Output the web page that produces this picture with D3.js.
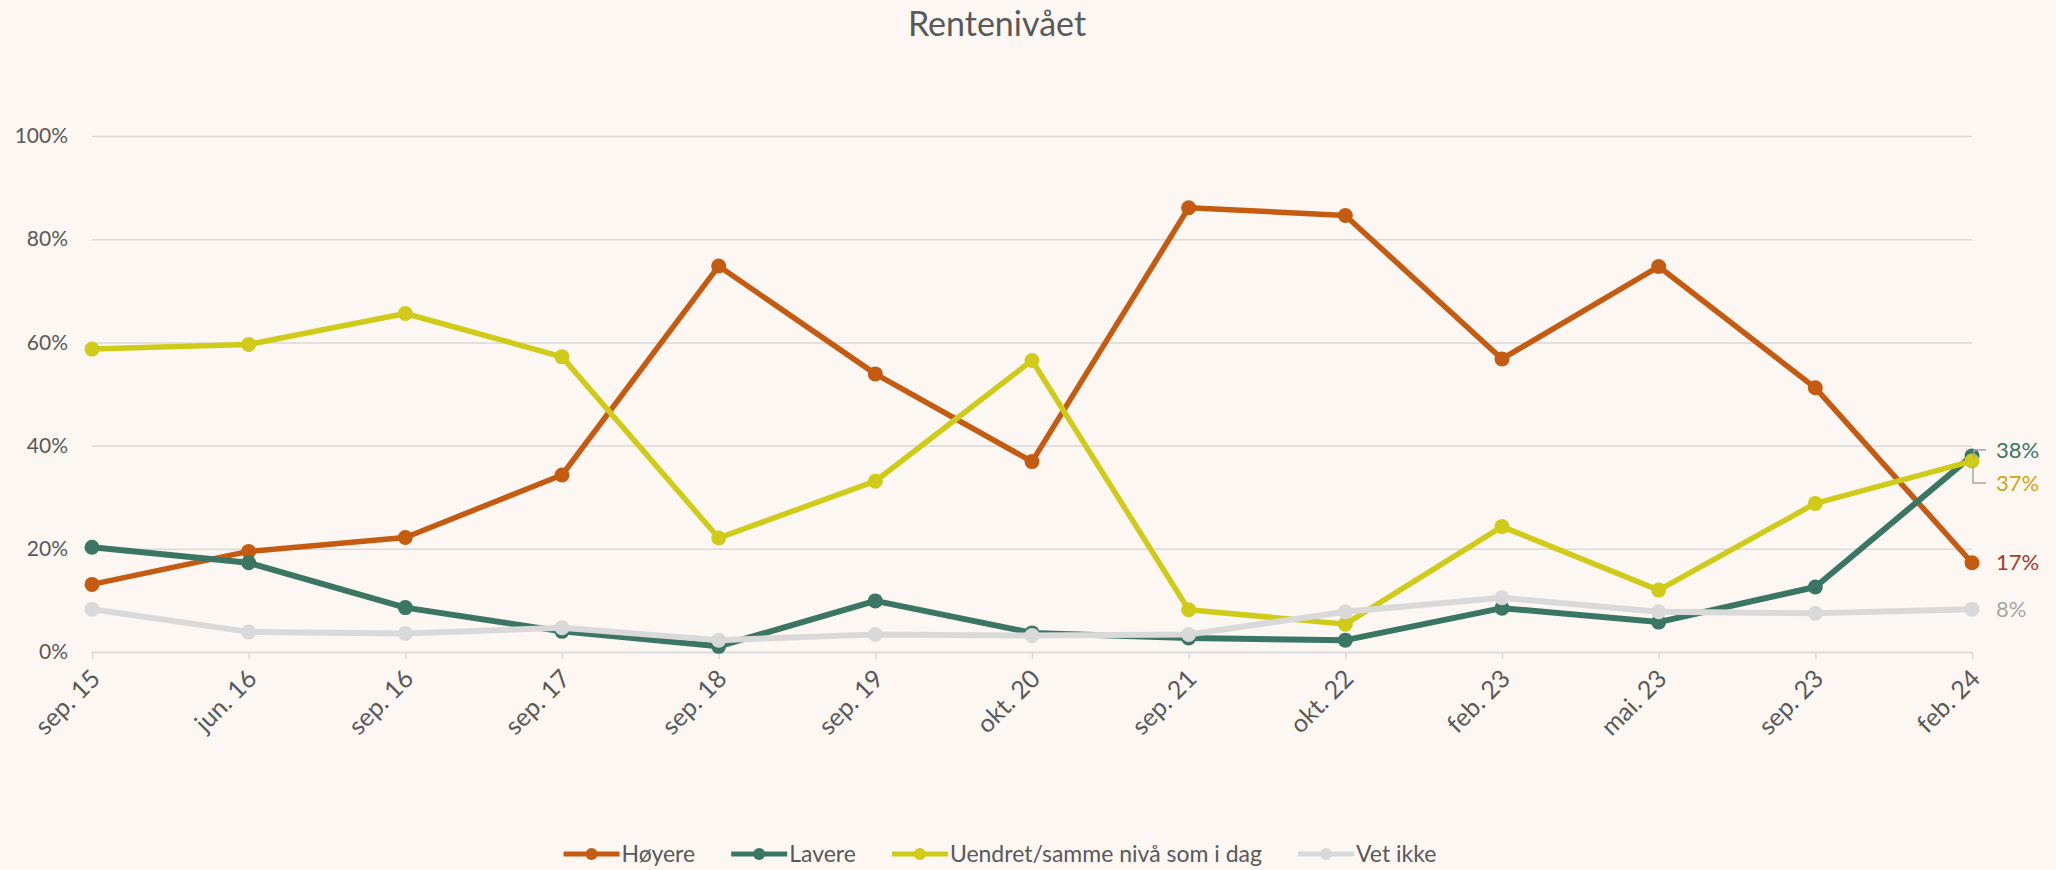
<!DOCTYPE html>
<html>
<head>
<meta charset="utf-8">
<script src="https://cdn.jsdelivr.net/npm/d3@7"></script>
<style>
  html, body { margin: 0; padding: 0; background: #fdf7f3; }
  svg { display: block; font-family: Lato, "Open Sans", sans-serif; }
</style>
</head>
<body>
<svg></svg>
<script>
// categories (survey dates)
var dates = ["sep. 15", "jun. 16", "sep. 16", "sep. 17", "sep. 18", "sep. 19", "okt. 20",
  "sep. 21", "okt. 22", "feb. 23", "mai. 23", "sep. 23", "feb. 24"];

// share of answers, percent
var hoyere  = [13.1, 19.5, 22.2, 34.3, 74.8, 53.9, 36.9, 86.1, 84.6, 56.8, 74.7, 51.2, 17.3];
var lavere  = [20.3, 17.3, 8.6, 4.0, 1.1, 9.9, 3.7, 2.7, 2.3, 8.5, 5.8, 12.6, 38.0];
var uendret = [58.7, 59.6, 65.6, 57.2, 22.1, 33.1, 56.5, 8.2, 5.4, 24.3, 12.0, 28.8, 37.0];
var vetIkke = [8.3, 3.9, 3.6, 4.7, 2.3, 3.4, 3.2, 3.4, 7.8, 10.5, 7.8, 7.5, 8.3];

var seriesNames = ["Høyere", "Lavere", "Uendret/samme nivå som i dag", "Vet ikke"];
var yTicks = [0, 20, 40, 60, 80, 100];

var colors = ["#c55a11", "#3b7665", "#d0cb18", "#d9d9d9"];
var labelColors = ["#a33a2e", "#3b7665", "#d1a415", "#a6a6a6"];
var lineWidths = [5.5, 6, 5.5, 6];

var width = 2056, height = 870;
var margin = { left: 92, right: 84, top: 136, bottom: 218 };
var plotW = width - margin.left - margin.right;
var plotH = height - margin.top - margin.bottom;

var svg = d3.select("svg")
  .attr("width", width)
  .attr("height", height);

svg.append("rect")
  .attr("width", width)
  .attr("height", height)
  .attr("fill", "#fdf7f3");

var series = [hoyere, lavere, uendret, vetIkke];

var x = d3.scalePoint()
  .domain(dates)
  .range([0, plotW]);

var y = d3.scaleLinear()
  .domain([0, 100])
  .range([plotH, 0]);

var g = svg.append("g")
  .attr("transform", "translate(" + margin.left + "," + margin.top + ")");

// title
svg.append("text")
  .attr("x", 997)
  .attr("y", 36)
  .attr("text-anchor", "middle")
  .attr("font-size", 34)
  .attr("fill", "#595959")
  .text("Rentenivået");

// y axis + gridlines
var yAxis = g.append("g")
  .call(d3.axisLeft(y)
    .tickValues(yTicks)
    .tickSize(-plotW)
    .tickPadding(24)
    .tickFormat(function(d) { return d + "%"; }));
yAxis.select(".domain").remove();
yAxis.selectAll("line")
  .attr("stroke", "#d9d9d9")
  .attr("stroke-width", 1.5);
yAxis.selectAll("text")
  .attr("font-size", 21)
  .attr("font-family", "Lato, sans-serif")
  .attr("fill", "#595959");

// x axis
var xAxis = g.append("g")
  .attr("transform", "translate(0," + plotH + ")")
  .call(d3.axisBottom(x).tickSize(7).tickSizeOuter(0));
xAxis.select(".domain")
  .attr("stroke", "#d9d9d9")
  .attr("stroke-width", 1.5);
xAxis.selectAll("line")
  .attr("stroke", "#d9d9d9")
  .attr("stroke-width", 1.5);
xAxis.selectAll("text")
  .attr("font-size", 25)
  .attr("font-family", "Lato, sans-serif")
  .attr("fill", "#595959")
  .attr("text-anchor", "end")
  .attr("x", 0)
  .attr("y", 0)
  .attr("dy", "0.35em")
  .attr("transform", "translate(3,22) rotate(-45)");

// lines and markers
var line = d3.line()
  .x(function(d, i) { return x(dates[i]); })
  .y(function(d) { return y(d); });

series.forEach(function(vals, s) {
  g.append("path")
    .datum(vals)
    .attr("fill", "none")
    .attr("stroke", colors[s])
    .attr("stroke-width", lineWidths[s])
    .attr("stroke-linejoin", "round")
    .attr("d", line);

  g.selectAll(".dot" + s)
    .data(vals)
    .enter()
    .append("circle")
    .attr("class", "dot" + s)
    .attr("cx", function(d, i) { return x(dates[i]); })
    .attr("cy", function(d) { return y(d); })
    .attr("r", 7.5)
    .attr("fill", colors[s]);
});

// end labels
var last = dates.length - 1;
var endX = x(dates[last]);
var labelOffsets = [0, -6, 22, 0];
series.forEach(function(vals, s) {
  g.append("text")
    .attr("x", endX + 24)
    .attr("y", y(vals[last]) + labelOffsets[s])
    .attr("dy", "0.35em")
    .attr("font-size", 22)
    .attr("fill", labelColors[s])
    .text(Math.round(vals[last]) + "%");
});

// leader lines for the two crowded labels
var yL = y(lavere[last]), yU = y(uendret[last]);
g.append("path")
  .attr("fill", "none")
  .attr("stroke", "#a6a6a6")
  .attr("stroke-width", 1.5)
  .attr("d", "M" + (endX + 14) + "," + (yL - 6) + "H" + (endX + 2) + "V" + (yL + 2));
g.append("path")
  .attr("fill", "none")
  .attr("stroke", "#a6a6a6")
  .attr("stroke-width", 1.5)
  .attr("d", "M" + (endX + 1) + "," + (yU + 5) + "V" + (yU + 22) + "H" + (endX + 14));

// legend
var legend = svg.append("g");
var lx = 0;
seriesNames.forEach(function(name, s) {
  var item = legend.append("g");
  item.append("line")
    .attr("x1", 0).attr("x2", 56)
    .attr("stroke", colors[s])
    .attr("stroke-width", 5);
  item.append("circle")
    .attr("cx", 28)
    .attr("r", 6)
    .attr("fill", colors[s]);
  var t = item.append("text")
    .attr("x", 58)
    .attr("dy", "0.35em")
    .attr("font-size", 23)
    .attr("fill", "#595959")
    .text(name);
  item.attr("transform", "translate(" + lx + ",0)");
  lx += 58 + t.node().getComputedTextLength() + 36;
});
var legendW = lx - 36;
legend.attr("transform", "translate(" + (1000 - legendW / 2) + ",854)");
</script>
</body>
</html>
